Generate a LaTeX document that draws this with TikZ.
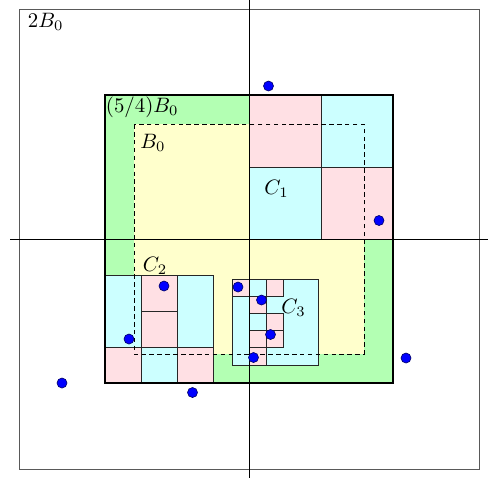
\documentclass[tikz,border=0pt]{standalone}
\usepackage{tikz}
\definecolor{gfill}{RGB}{179,255,179}
\definecolor{yfill}{RGB}{255,255,204}
\definecolor{pfill}{RGB}{255,224,228}
\definecolor{cfill}{RGB}{204,255,255}
\begin{document}
\begin{tikzpicture}[x=0.48pt,y=-0.48pt,
  pcell/.style={fill=pfill,draw=black!85,line width=0.4pt},
  ccell/.style={fill=cfill,draw=black!85,line width=0.4pt},
  dot/.style={circle,fill=blue,draw=blue!40!black,line width=0.3pt,minimum size=4.8pt,inner sep=0pt},
  lbl/.style={anchor=base west,inner sep=0pt}]
\useasboundingbox (0,0) rectangle (489,481);
% outer 2B0
\draw[black!65,line width=0.4pt] (19,9) rectangle (479,469);
% (5/4)B0 fill
\fill[gfill] (105,95) rectangle (393,383);
% B0 fill
\fill[yfill] (134,124) rectangle (364,354);
% C1
\draw[pcell] (249,95) rectangle (321,167);
\draw[ccell] (321,95) rectangle (393,167);
\draw[ccell] (249,167) rectangle (321,239);
\draw[pcell] (321,167) rectangle (393,239);
% C2
\draw[ccell] (105,275) rectangle (141,347);
\draw[pcell] (141,275) rectangle (177,311);
\draw[pcell] (141,311) rectangle (177,347);
\draw[ccell] (177,275) rectangle (213,347);
\draw[pcell] (105,347) rectangle (141,383);
\draw[ccell] (141,347) rectangle (177,383);
\draw[pcell] (177,347) rectangle (213,383);
% C3
\draw[ccell] (232,279) rectangle (318,365);
\draw[pcell] (232,279) rectangle (249.2,296.2);
\draw[ccell] (249.2,279) rectangle (266.4,296.2);
\draw[pcell] (266.4,279) rectangle (283.6,296.2);
\draw[pcell] (249.2,296.2) rectangle (266.4,313.4);
\draw[ccell] (249.2,313.4) rectangle (266.4,330.6);
\draw[pcell] (266.4,313.4) rectangle (283.6,330.6);
\draw[pcell] (249.2,330.6) rectangle (266.4,347.8);
\draw[pcell] (266.4,330.6) rectangle (283.6,347.8);
\draw[pcell] (249.2,347.8) rectangle (266.4,365);
% B0 dashed
\draw[line width=0.4pt,dash pattern=on 2.2pt off 1.6pt] (134,124) rectangle (364,354);
% axes
\draw[line width=0.4pt] (249,0) -- (249,478);
\draw[line width=0.4pt] (10,239) -- (488,239);
% (5/4)B0 border
\draw[line width=0.8pt] (105,95) rectangle (393,383);
% dots
\node[dot] (d1) at (268.5,86) {};
\node[dot] (d2) at (379,220.5) {};
\node[dot] (d3) at (406,358) {};
\node[dot] (d4) at (62,383) {};
\node[dot] (d5) at (192.5,392.5) {};
\node[dot] (d6) at (129,339) {};
\node[dot] (d7) at (164,286) {};
\node[dot] (d8) at (238,287) {};
\node[dot] (d9) at (261.5,300) {};
\node[dot] (d10) at (270.5,334.5) {};
\node[dot] (d11) at (253.5,357.5) {};
% labels
\node[lbl] (l2b) at (27.5,27.5) {$2B_0$};
\node[lbl] (l54) at (105.5,112) {$(5/4)B_0$};
\node[lbl] (lb0) at (140,148) {$B_0$};
\node[lbl] (lc1) at (264,194) {$C_1$};
\node[lbl] (lc2) at (142.5,271) {$C_2$};
\node[lbl] (lc3) at (281,313) {$C_3$};
\end{tikzpicture}
\end{document}
